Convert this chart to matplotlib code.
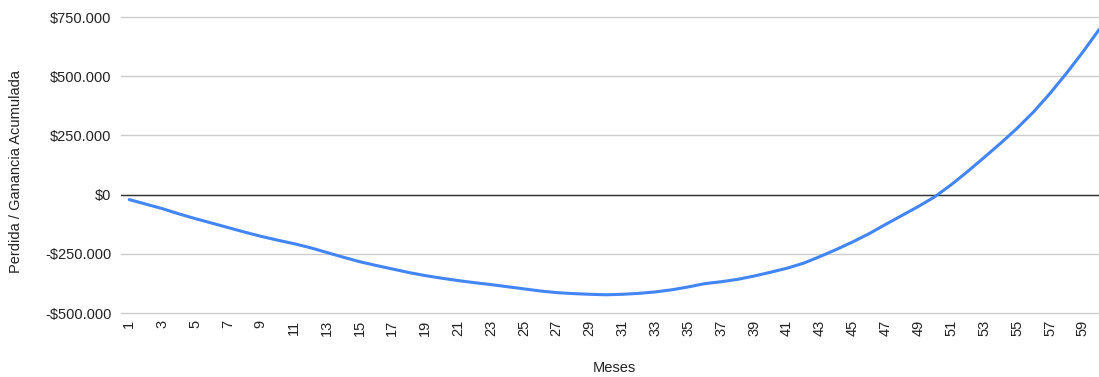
import matplotlib
matplotlib.use("Agg")
import matplotlib.pyplot as plt
from matplotlib.ticker import FuncFormatter

months = list(range(1, 61))
values_k = [
    -21, -40, -59, -81, -101, -120, -139, -158, -176, -192,
    -207, -224, -244, -264, -283, -299, -314, -329, -342, -353,
    -363, -372, -380, -389, -398, -407, -414, -418, -421, -423,
    -421, -417, -411, -402, -390, -376, -368, -358, -344, -328,
    -311, -290, -262, -232, -200, -165, -126, -88, -50, -9,
    42, 98, 157, 217, 280, 349, 427, 512, 602, 698,
]
values = [v * 1000 for v in values_k]
xtick_labels = [str(m) for m in range(1, 60, 2)]
ytick_values = [-500000, -250000, 0, 250000, 500000, 750000]

plt.rcParams['font.family'] = ['Liberation Sans', 'DejaVu Sans']

fig = plt.figure(figsize=(10.99, 3.77), dpi=100)
ax = fig.add_axes([121/1099, 64/377, 986.5/1099, 296/377])

def fmt(v, pos):
    v = int(round(v))
    s = f"{abs(v):,}".replace(",", ".")
    return ("-" if v < 0 else "") + "$" + s

ax.set_xlim(0.5, 60.5)
ax.set_ylim(-500000, 750000)
ax.set_yticks(ytick_values)
ax.yaxis.set_major_formatter(FuncFormatter(fmt))
ax.set_xticks(range(1, 60, 2))
ax.set_xticklabels(xtick_labels, rotation=90)

ax.grid(axis='y', color='#cccccc', linewidth=1.0)
for gl in ax.yaxis.get_gridlines():
    gl.set_clip_on(False)
ax.set_axisbelow(True)
ax.axhline(0, color='#333333', linewidth=1.0, zorder=2)
for s in ax.spines.values():
    s.set_visible(False)
ax.tick_params(axis='both', length=0, labelsize=10.5, colors='#222222')
ax.tick_params(axis='y', pad=7)
ax.tick_params(axis='x', pad=5)

ax.plot(months, values, color='#4285F4', linewidth=2.2, zorder=3, solid_capstyle='round')

ax.set_xlabel("Meses", fontsize=10.5, color='#222222')
ax.xaxis.set_label_coords(0.5, -0.162)
ax.set_ylabel("Perdida / Ganancia Acumulada", fontsize=10.5, color='#222222')
ax.yaxis.set_label_coords(-0.0993, 0.477)

fig.savefig("out.png", dpi=100)
